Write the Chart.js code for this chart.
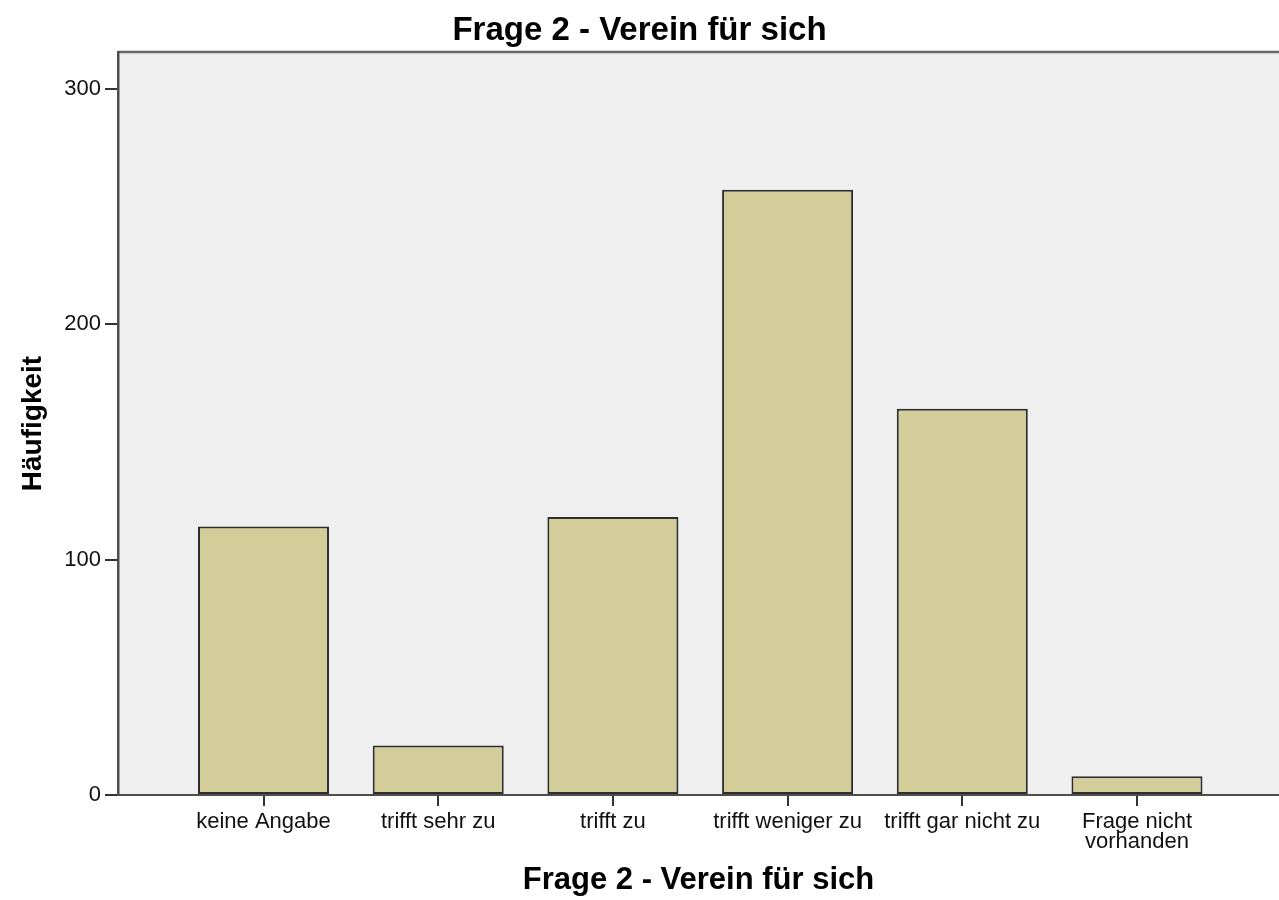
<!DOCTYPE html>
<html lang="de">
<head>
<meta charset="utf-8">
<title>Frage 2 - Verein für sich</title>
<script src="https://cdn.jsdelivr.net/npm/chart.js@4.4.1/dist/chart.umd.min.js"></script>
<style>
  html, body { margin: 0; padding: 0; background: #fff; }
  #wrap { width: 1279px; height: 900px; }
</style>
</head>
<body>
<div id="wrap"><canvas id="chart" width="1279" height="900"></canvas></div>
<script>
// Daten
const categories = ["keine Angabe", "trifft sehr zu", "trifft zu", "trifft weniger zu", "trifft gar nicht zu", ["Frage nicht", "vorhanden"]];
const counts = [114, 21, 118, 257, 164, 8];
const yTicks = [0, 100, 200, 300];

const titleText = "Frage 2 - Verein für sich";
const fontFamily = "'Liberation Sans', Arial, sans-serif";

// Punkte für die lineare x-Achse (Index = Kategorie)
const points = counts.map((v, i) => ({ x: i, y: v }));

// Hintergrund und obere Rahmenlinie der Zeichenfläche
const plotBackground = {
    id: "plotBackground",
    beforeDraw(chart) {
        const { ctx, chartArea: a } = chart;
        ctx.save();
        ctx.fillStyle = "#efefef";
        ctx.fillRect(a.left, a.top, a.right - a.left, a.bottom - a.top);
        ctx.strokeStyle = "#6a6a6a";
        ctx.lineWidth = 2.5;
        ctx.beginPath();
        ctx.moveTo(a.left, a.top);
        ctx.lineTo(a.right, a.top);
        ctx.stroke();
        ctx.restore();
    }
};

new Chart(document.getElementById("chart"), {
    type: "bar",
    data: {
        datasets: [{
            label: "Häufigkeit",
            data: points,
            backgroundColor: "#d3ce99",
            borderColor: "#2e2e2e",
            borderWidth: 2,
            borderSkipped: false,
            categoryPercentage: 1,
            barPercentage: 0.75
        }]
    },
    options: {
        responsive: false,
        animation: false,
        layout: { padding: { left: 0, right: 0, top: 0, bottom: 0 } },
        plugins: {
            legend: { display: false },
            tooltip: { enabled: false },
            title: {
                display: true,
                text: titleText,
                color: "#000",
                font: { family: fontFamily, size: 33, weight: "bold", lineHeight: 1.2 },
                padding: { top: 11, bottom: 1.4 }
            }
        },
        scales: {
            x: {
                type: "linear",
                offset: false,
                min: -0.833,
                max: 5.813,
                afterBuildTicks(scale) {
                    scale.ticks = categories.map((c, i) => ({ value: i }));
                },
                afterFit(scale) { scale.height = 105; },
                ticks: {
                    color: "#111",
                    font: { family: fontFamily, size: 22, lineHeight: 0.92 },
                    padding: 6,
                    maxRotation: 0,
                    autoSkip: false,
                    callback: (v) => categories[v]
                },
                grid: { offset: false, drawOnChartArea: false, drawTicks: true, tickLength: 11, color: "#333", lineWidth: 2 },
                border: { display: true, color: "#4d4d4d", width: 2 },
                title: {
                    display: true,
                    text: titleText,
                    color: "#000",
                    font: { family: fontFamily, size: 31, weight: "bold", lineHeight: 1.2 },
                    padding: { top: 4, bottom: 1 }
                }
            },
            y: {
                min: 0,
                max: 315.5,
                afterBuildTicks(scale) {
                    scale.ticks = yTicks.map(v => ({ value: v }));
                },
                afterFit(scale) { scale.width = 118; },
                ticks: {
                    color: "#111",
                    font: { family: fontFamily, size: 22 },
                    padding: 4
                },
                grid: { drawOnChartArea: false, drawTicks: true, tickLength: 13, color: "#333", lineWidth: 2 },
                border: { display: true, color: "#4d4d4d", width: 2.5 },
                title: {
                    display: true,
                    text: "Häufigkeit",
                    color: "#000",
                    font: { family: fontFamily, size: 28, weight: "bold", lineHeight: 1.2 },
                    padding: { top: 16, bottom: 0 }
                }
            }
        }
    },
    plugins: [plotBackground]
});
</script>
</body>
</html>
